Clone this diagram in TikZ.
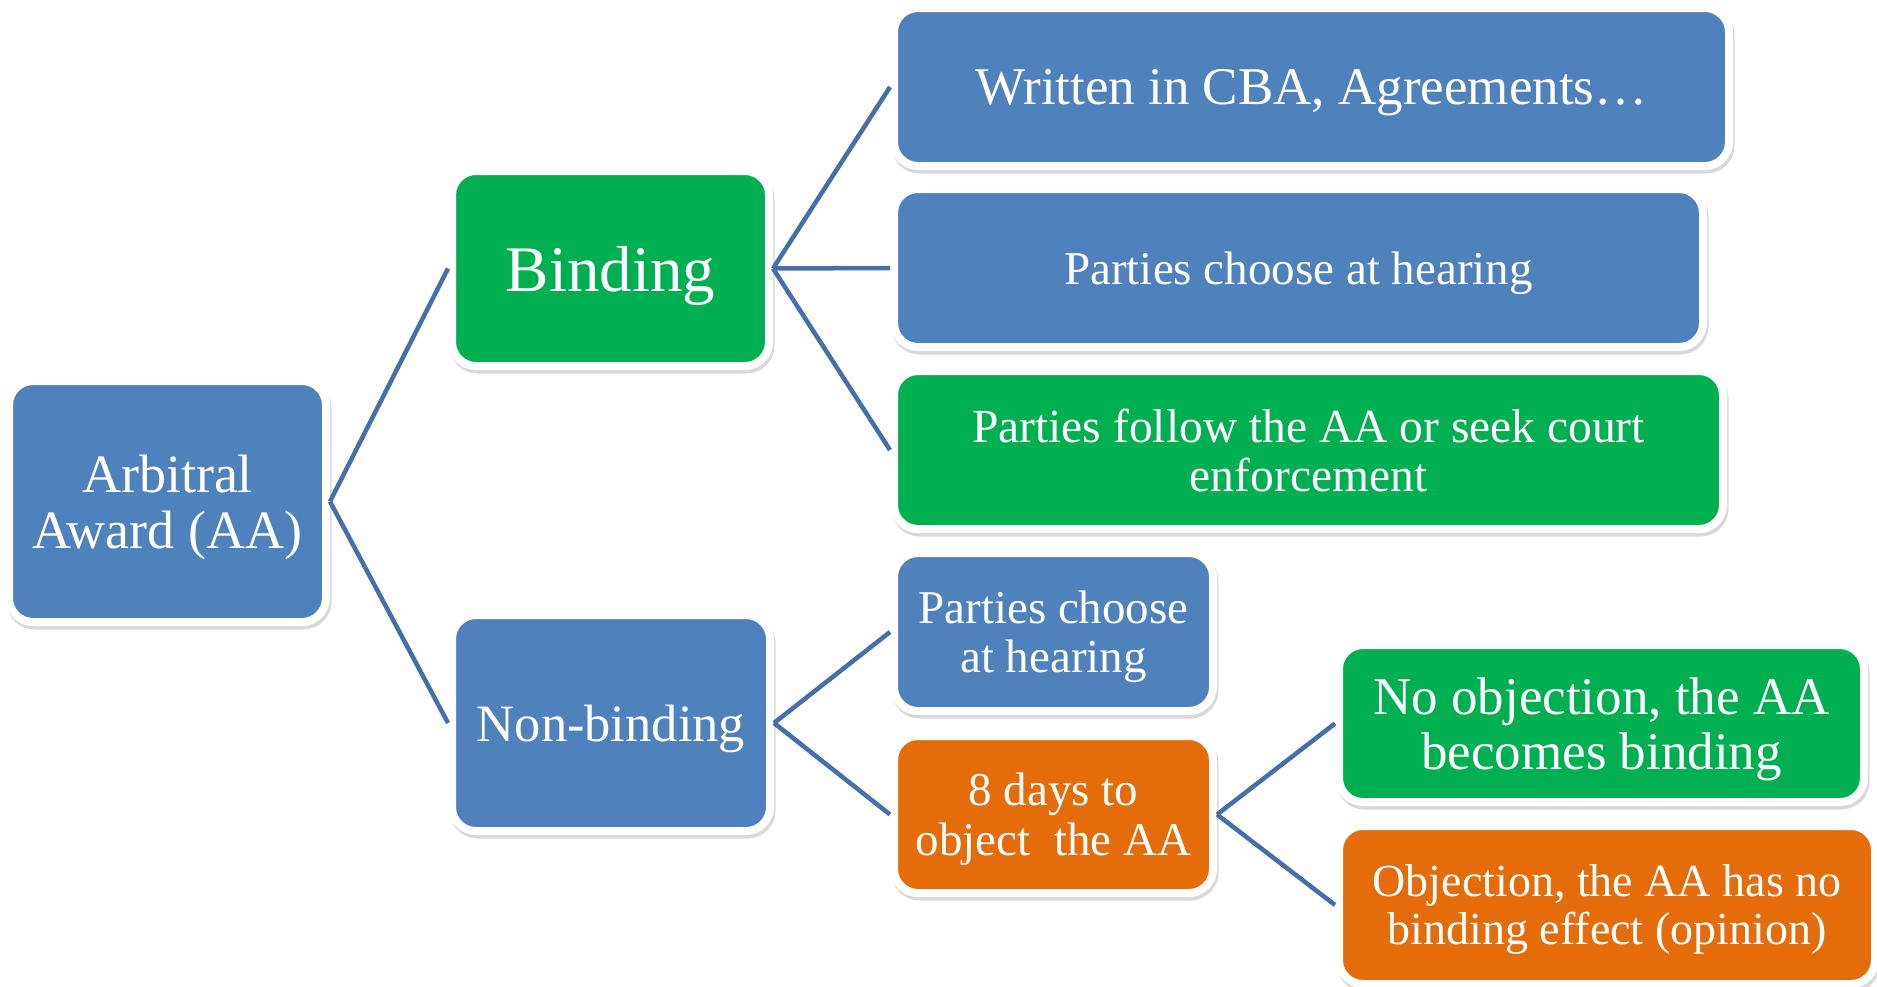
\documentclass[tikz,border=0pt]{standalone}
\usepackage{fontspec}
\setmainfont{Liberation Serif}
\definecolor{boxblue}{HTML}{4F81BD}
\definecolor{boxgreen}{HTML}{00B050}
\definecolor{boxorange}{HTML}{E46C0A}
\definecolor{linkblue}{RGB}{70,110,168}
\tikzset{
  box/.style={rectangle, rounded corners=24pt, draw=white, line width=8pt,
    inner sep=0pt, text=white, align=center, text depth=0pt,
    preaction={draw=black!50, opacity=0.3, line width=8pt,
      transform canvas={xshift=1.5pt, yshift=-3.5pt}}},
  link/.style={draw=linkblue, line width=4.5pt},
}
\begin{document}
\begin{tikzpicture}[x=1pt, y=-1pt]
\useasboundingbox (0,0) rectangle (1877,986);
\node[box, fill=boxblue, minimum width=317pt, minimum height=241pt, font=\fontsize{54}{56}\selectfont] (aa) at (167.5,501.5) {Arbitral\\Award (AA)};
\node[box, fill=boxgreen, minimum width=317pt, minimum height=195pt, font=\fontsize{65}{68}\selectfont] (bind) at (610.5,268.5) {Binding};
\node[box, fill=boxblue, minimum width=318pt, minimum height=216pt, font=\fontsize{52.5}{55}\selectfont] (nonb) at (611,723) {Non-binding};
\node[box, fill=boxblue, minimum width=835pt, minimum height=158pt, font=\fontsize{53}{56}\selectfont] (written) at (1311.5,87) {Written in CBA, Agreements…};
\node[box, fill=boxblue, minimum width=809pt, minimum height=158pt, font=\fontsize{47}{49}\selectfont] (choose1) at (1298.5,268) {Parties choose at hearing};
\node[box, fill=boxgreen, minimum width=829pt, minimum height=158pt, font=\fontsize{47.5}{49}\selectfont] (follow) at (1308.5,450) {Parties follow the AA or seek court\\enforcement};
\node[box, fill=boxblue, minimum width=319pt, minimum height=158pt, font=\fontsize{47}{49}\selectfont] (choose2) at (1053.5,632) {Parties choose\\at hearing};
\node[box, fill=boxorange, minimum width=319pt, minimum height=157pt, font=\fontsize{47}{50}\selectfont] (eight) at (1053.5,814.5) {8 days to\\object~ the AA};
\node[box, fill=boxgreen, minimum width=525pt, minimum height=157pt, font=\fontsize{53}{55}\selectfont] (noobj) at (1601.5,723.5) {No objection, the AA\\becomes binding};
\node[box, fill=boxorange, minimum width=536pt, minimum height=158pt, font=\fontsize{46}{48}\selectfont] (obj) at (1607,905) {Objection, the AA has no\\binding effect (opinion)};
\draw[link] (aa.east) -- (bind.west);
\draw[link] (aa.east) -- (nonb.west);
\draw[link] (bind.east) -- (written.west);
\draw[link] (bind.east) -- (choose1.west);
\draw[link] (bind.east) -- (follow.west);
\draw[link] (nonb.east) -- (choose2.west);
\draw[link] (nonb.east) -- (eight.west);
\draw[link] (eight.east) -- (noobj.west);
\draw[link] (eight.east) -- (obj.west);
\end{tikzpicture}
\end{document}
